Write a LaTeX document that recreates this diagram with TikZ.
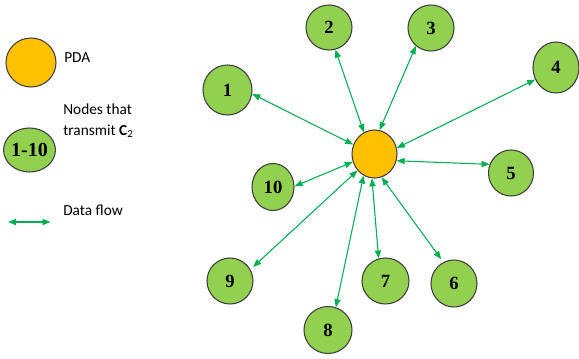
\documentclass[tikz,border=0pt]{standalone}
\usepackage{fontspec}
\setmainfont{Liberation Serif}
\newfontfamily\legendfont{Carlito}
\usetikzlibrary{shapes.geometric,arrows.meta}
\definecolor{nodegreen}{HTML}{92D050}
\definecolor{pdaorange}{HTML}{FFC000}
\definecolor{flowgreen}{HTML}{00B050}
\definecolor{rimgray}{HTML}{3F3F3F}
\tikzset{
  blob/.style args={#1/#2}{shape=ellipse, draw=rimgray, line width=0.8pt,
    inner sep=0pt, minimum width=#1*0.75pt, minimum height=#2*0.75pt,
    font=\fontsize{14}{15}\selectfont\bfseries},
  station/.style={blob=#1, fill=nodegreen},
  pdanode/.style={blob=#1, fill=pdaorange},
  flow/.style={draw=flowgreen, line width=0.8pt,
    {Triangle[length=6pt,width=4.6pt]}-{Triangle[length=6pt,width=4.6pt]}},
  legendtext/.style={anchor=base west, inner sep=0pt,
    font=\legendfont\fontsize{11.5}{15.75}\selectfont, align=left}
}
\begin{document}
\begin{tikzpicture}[x=0.75pt, y=-0.75pt]
\useasboundingbox (0,0) rectangle (579,358);

% legend
\node[pdanode=50/49] (lpda) at (31,62.5) {};
\node[legendtext] (lpdatext) at (64,62.3) {PDA};
\node[station=49/44, font=\fontsize{15}{16}\selectfont\bfseries] (lnode) at (29.5,150) {1-10};
\node[legendtext] (lnodetext) at (63,135) {Nodes that\\transmit \textbf{C}\textsubscript{2}};
\coordinate (la) at (8,222);
\coordinate (lb) at (50.5,222);
\draw[flow] (la) -- (lb);
\node[legendtext] (lflowtext) at (63,215) {Data flow};

% central PDA and transmitting nodes
\node[pdanode=45/48] (pda) at (374.5,154) {};
\node[station=49/50] (n1) at (227.5,90) {1};
\node[station=46/45] (n2) at (329,27.5) {2};
\node[station=46/46] (n3) at (431,28) {3};
\node[station=46/51] (n4) at (556,67.5) {4};
\node[station=45/46] (n5) at (511,173) {5};
\node[station=46/47] (n6) at (454,283.5) {6};
\node[station=47/46] (n7) at (385.5,281) {7};
\node[station=48/47] (n8) at (328,330) {8};
\node[station=46/46] (n9) at (230,281) {9};
\node[station=42/47] (n10) at (273,187) {10};

% data flows
\draw[flow] (pda.156) -- (n1.-9);
\draw[flow] (pda.116) -- (n2.-74);
\draw[flow] (pda.78) -- (n3.-130);
\draw[flow] (pda.15) -- (n4.-150);
\draw[flow] (pda.-17) -- (n5.158);
\draw[flow] (pda.-73) -- ([shift={(-2,-3)}]n6.117);
\draw[flow] (pda.-96) -- (n7.107);
\draw[flow] (pda.-117) -- (n8.71);
\draw[flow] (pda.-136) -- ([shift={(3,-2)}]n9.31);
\draw[flow] (pda.-160) -- (n10.2);
\end{tikzpicture}
\end{document}
